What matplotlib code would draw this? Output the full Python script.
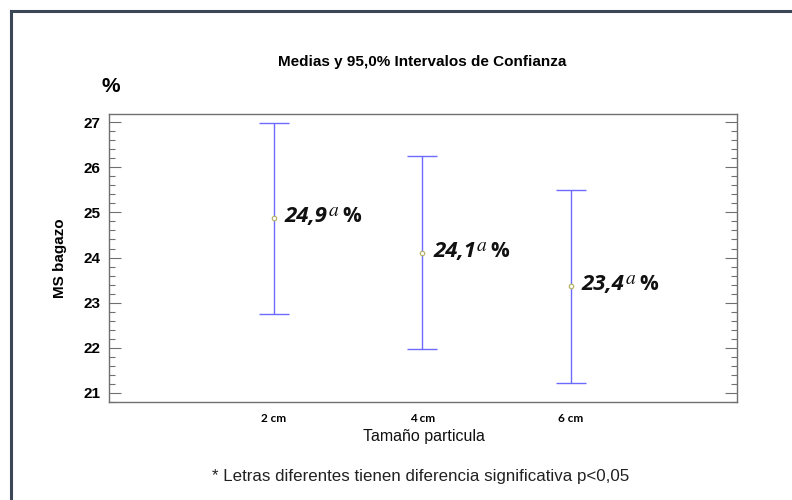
"""Means with 95% confidence intervals for bagasse dry matter by particle size."""
import matplotlib.pyplot as plt
from matplotlib.lines import Line2D
from matplotlib.ticker import MultipleLocator, FixedLocator

# data
categories = ["2 cm", "4 cm", "6 cm"]
means = [24.87, 24.10, 23.37]
ci_low = [22.75, 21.97, 21.22]
ci_high = [26.97, 26.24, 25.49]
mean_labels = ["24,9", "24,1", "23,4"]
letters = ["a", "a", "a"]

W, H = 792, 500


def fx(px):
    return px / W


def fy(py):
    return 1 - py / H


fig = plt.figure(figsize=(7.92, 5.0), dpi=100)
ax = fig.add_axes([fx(109), fy(402), fx(737) - fx(109), fy(114) - fy(402)])

pos = [1, 2, 3]
err = [[m - lo for m, lo in zip(means, ci_low)],
       [hi - m for m, hi in zip(means, ci_high)]]
ax.errorbar(pos, means, yerr=err, fmt="none", ecolor="#6b6bff",
            elinewidth=1.0, capsize=11, capthick=1.0, zorder=2)
ax.plot(pos, means, "o", ms=3.2, mfc="white", mec="#b8b46a", mew=0.9, zorder=3)

# value, superscript letter and percent sign chained one after another
for x, m, lab, let in zip(pos, means, mean_labels, letters):
    t_val = ax.annotate(lab, (x, m), xytext=(8, 1), textcoords="offset points",
                        ha="left", va="center", fontsize=16, fontweight="bold",
                        fontstyle="italic", family="Open Sans", color="#111111")
    t_let = ax.annotate(let, xy=(1, 0.78), xycoords=t_val, xytext=(0.5, 0),
                        textcoords="offset points", ha="left", va="center",
                        fontsize=14, fontstyle="italic", family="STIXGeneral",
                        color="#111111")
    ax.annotate("%", xy=(1, 0.5), xycoords=(t_let, t_val), xytext=(3, 0),
                textcoords="offset points", ha="left", va="center",
                fontsize=15, fontweight="bold", family="Open Sans",
                color="#111111")

ax.set_xlim(-0.11, 4.12)
ax.set_ylim(20.8, 27.18)

ax.xaxis.set_major_locator(FixedLocator(pos))
ax.set_xticklabels(categories, fontsize=8.5, fontweight="bold", family="Lato")
ax.tick_params(axis="x", length=0, pad=8)

ax.yaxis.set_major_locator(MultipleLocator(1))
ax.yaxis.set_minor_locator(MultipleLocator(0.2))
ax.tick_params(axis="y", which="both", direction="in", right=True,
               color="#707070", width=0.8)
ax.tick_params(axis="y", which="major", length=8.5, labelsize=11, pad=6)
ax.tick_params(axis="y", which="minor", length=4.3)
for t in ax.get_yticklabels():
    t.set_fontweight("bold")
    t.set_family("Liberation Sans")

for s in ax.spines.values():
    s.set_color("#707070")
    s.set_linewidth(1.0)

ax.set_ylabel("MS bagazo", fontsize=11, fontweight="bold",
              family="Liberation Sans", labelpad=12)

fig.text(fx(422), fy(62), "Medias y 95,0% Intervalos de Confianza",
         ha="center", va="center", fontsize=11, fontweight="bold",
         family="Liberation Sans")
fig.text(fx(111), fy(87), "%", ha="center", va="center", fontsize=15,
         fontweight="bold", family="Liberation Sans")
fig.text(fx(424), fy(437), "Tamaño particula", ha="center", va="center",
         fontsize=11.5, family="Liberation Sans", color="#111111")
fig.text(fx(421), fy(477), "* Letras diferentes tienen diferencia significativa p<0,05",
         ha="center", va="center", fontsize=12.2, family="Liberation Sans",
         color="#222222")

# dark frame along the left and top edges
frame = "#3b4657"
fig.add_artist(Line2D([fx(11), fx(11)], [0, fy(11)], color=frame, lw=2.2,
                      solid_capstyle="projecting"))
fig.add_artist(Line2D([fx(11), 1], [fy(11), fy(11)], color=frame, lw=2.2,
                      solid_capstyle="projecting"))

fig.savefig("out.png", dpi=100)
